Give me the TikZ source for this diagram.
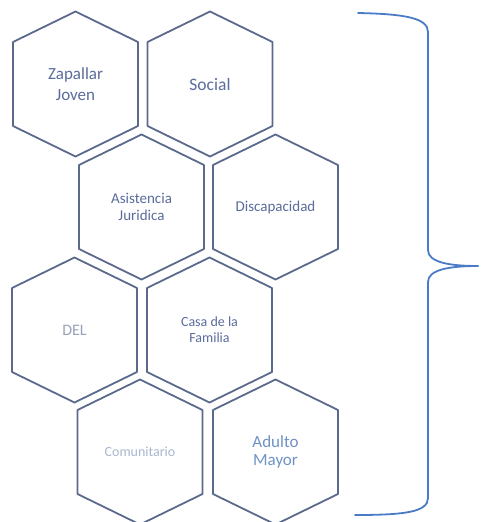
\documentclass[tikz,border=0pt]{standalone}
\usepackage{fontspec}
\setmainfont{Carlito}
\usepackage{tikz}
\definecolor{hexblue}{HTML}{5B6A8C}
\definecolor{txtblue}{HTML}{5A6B9C}
\definecolor{txtgray}{HTML}{98A2B8}
\definecolor{txtlight}{HTML}{A8B6CE}
\definecolor{txtsky}{HTML}{6E92C4}
\definecolor{braceblue}{HTML}{4A7CC6}
\tikzstyle{hexline}=[draw=hexblue,line width=1.8pt,line join=round]
\tikzstyle{hexlabel}=[align=center,text=txtblue,inner sep=0pt]
\tikzstyle{bracket}=[draw=braceblue,line width=1.8pt,line cap=round]
% one cell: name, x, y, text options, label
\newcommand{\hexcell}[5]{%
  \draw[hexline] (#2,#3) ++(0,-72.5) -- ++(62.5,30.5) -- ++(0,84)
    -- ++(-62.5,30.5) -- ++(-62.5,-30.5) -- ++(0,-84) -- cycle;
  \node[hexlabel,#4] (#1) at (#2,#3) {#5};}

\begin{document}
\begin{tikzpicture}[x=1pt,y=-1pt]
		\useasboundingbox (0,0) rectangle (498,522);
		% row 1
		\hexcell{zapallar}{75.5}{84}{font=\fontsize{17}{21}\selectfont}{Zapallar\\Joven}
		\hexcell{social}{210}{84}{font=\fontsize{17.5}{21}\selectfont}{Social}
		% row 2
		\hexcell{asistencia}{141.5}{207}{font=\fontsize{15}{17}\selectfont}{Asistencia\\Juridica}
		\hexcell{discapacidad}{275.5}{207}{font=\fontsize{15}{17}\selectfont}{Discapacidad}
		% row 3
		\hexcell{del}{74.5}{330}{font=\fontsize{16}{19}\selectfont,text=txtgray}{DEL}
		\hexcell{casa}{209.5}{330}{font=\fontsize{14}{16}\selectfont}{Casa de la\\Familia}
		% row 4
		\hexcell{comunitario}{140}{452}{font=\fontsize{14}{16}\selectfont,text=txtlight}{Comunitario}
		\hexcell{adulto}{275.5}{452}{font=\fontsize{17}{18}\selectfont,text=txtsky}{Adulto\\Mayor}
		% brace
		\coordinate (top) at (358,13);
		\coordinate (tip) at (478,266);
		\coordinate (bottom) at (355,515);
		\draw[bracket] (top) .. controls (405,14) and (428,18) .. (428,32)
			-- (428,250) .. controls (428,262) and (448,266) .. (tip);
		\draw[bracket] (tip) .. controls (448,266) and (428,270) .. (428,282)
			-- (428,498) .. controls (428,512) and (405,515) .. (bottom);
	\end{tikzpicture}
\end{document}
